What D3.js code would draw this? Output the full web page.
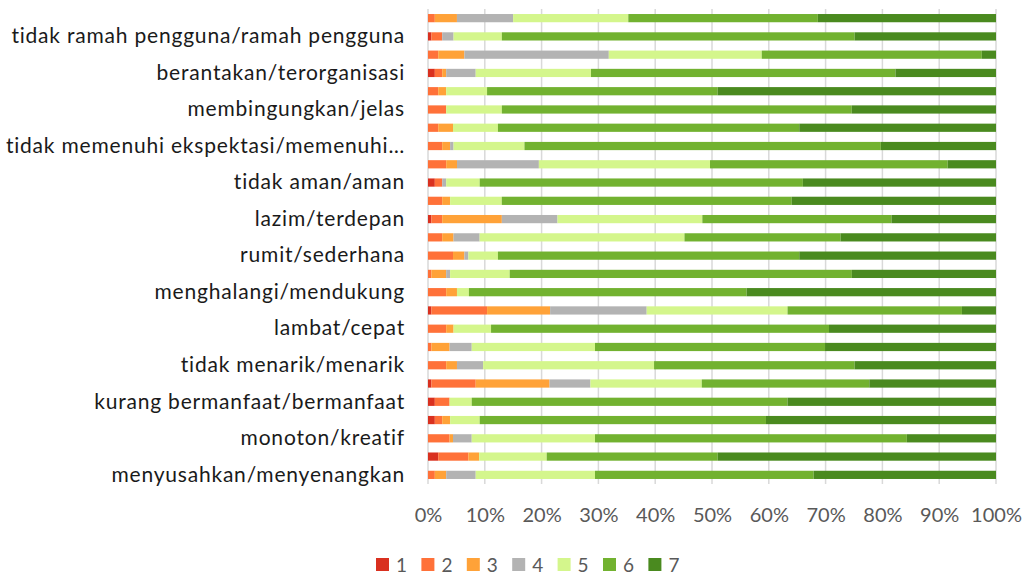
<!DOCTYPE html>
<html>
<head>
<meta charset="utf-8">
<script src="https://cdn.jsdelivr.net/npm/d3@7"></script>
<style>
	body { margin: 0; background: #fff; }
	svg text { font-family: Lato, 'Open Sans', sans-serif; }
</style>
</head>
<body>
<script>
// data (category 1 is drawn at the bottom, like Excel)
var categories = [
	'menyusahkan/menyenangkan',
	'tak dapat dipahami/dapat dipahami',
	'monoton/kreatif',
	'sulit dipelajari/mudah dipelajari',
	'kurang bermanfaat/bermanfaat',
	'membosankan/mengasyikkan',
	'tidak menarik/menarik',
	'tak dapat diprediksi/dapat diprediksi',
	'lambat/cepat',
	'konvensional/berdaya cipta',
	'menghalangi/mendukung',
	'buruk/baik',
	'rumit/sederhana',
	'tidak disukai/menggembirakan',
	'lazim/terdepan',
	'tidak nyaman/nyaman',
	'tidak aman/aman',
	'tidak memotivasi/memotivasi',
	'tidak memenuhi ekspektasi/memenuhi ekspektasi',
	'tidak efisien/efisien',
	'membingungkan/jelas',
	'tidak praktis/praktis',
	'berantakan/terorganisasi',
	'tidak atraktif/atraktif',
	'tidak ramah pengguna/ramah pengguna',
	'konservatif/inovatif'
];

var keys = ['1', '2', '3', '4', '5', '6', '7'];

var s1 = [0, 1.8, 0, 1.2, 1.2, 0.6, 0, 0, 0, 0.6, 0, 0, 0, 0, 0.6, 0, 1.2, 0, 0, 0, 0, 0, 1.2, 0, 0.6, 0];
var s2 = [1.2, 5.3, 3.8, 1.3, 2.6, 7.8, 3.2, 0.6, 3.2, 9.8, 3.2, 0.6, 4.4, 2.5, 1.9, 2.5, 1.3, 3.2, 2.5, 1.8, 3.2, 1.8, 1.3, 1.8, 1.9, 1.2];
var s3 = [2.0, 1.9, 0.6, 1.4, 0, 13.0, 1.9, 3.2, 1.3, 11.1, 1.9, 2.6, 2.0, 2.0, 10.5, 1.4, 0, 1.9, 1.4, 2.6, 0, 1.4, 0.7, 4.6, 0, 3.9];
var s4 = [5.2, 0, 3.3, 0, 0, 7.2, 4.6, 3.9, 0, 17.0, 0, 0.7, 0.7, 4.6, 9.8, 0, 0.7, 14.4, 0.6, 0, 0, 0, 5.2, 25.4, 2.0, 9.9];
var s5 = [21.0, 11.9, 21.7, 5.2, 3.9, 19.6, 30.1, 21.7, 6.6, 24.8, 2.1, 10.5, 5.2, 36.1, 25.5, 9.1, 5.9, 30.1, 12.5, 7.9, 9.8, 7.2, 20.3, 26.9, 8.5, 20.3];
var s6 = [38.5, 30.1, 54.9, 50.4, 55.6, 29.5, 35.3, 40.5, 59.5, 30.7, 48.9, 60.3, 53.0, 27.5, 33.3, 51.1, 56.9, 41.8, 62.8, 53.0, 61.6, 40.6, 53.6, 38.7, 62.1, 33.4];
var s7 = [32.1, 49.0, 15.7, 40.5, 36.7, 22.3, 24.9, 30.1, 29.4, 6.0, 43.9, 25.4, 34.6, 27.4, 18.4, 36.0, 34.0, 8.5, 20.3, 34.6, 25.4, 49.0, 17.7, 2.5, 24.9, 31.4];
var series_values = [s1, s2, s3, s4, s5, s6, s7];

var x_ticks = [0, 0.1, 0.2, 0.3, 0.4, 0.5, 0.6, 0.7, 0.8, 0.9, 1];

var colors = ['#d9301f', '#ff7139', '#ffa238', '#b3b3b3', '#d4f68c', '#72b230', '#4a8a1f'];

var dataset = categories.map(function (c, i) {
	var row = { category: c };
	keys.forEach(function (k, j) { row[k] = series_values[j][i]; });
	return row;
});

// chart
var margin = { top: 9, right: 32, bottom: 92, left: 428 };
var width = 1028 - margin.left - margin.right;
var height = 576 - margin.top - margin.bottom;

var root = d3.select('body')
	.append('svg')
	.attr('width', 1028)
	.attr('height', 576);

var svg = root.append('g')
	.attr('transform', 'translate(' + margin.left + ',' + margin.top + ')');

var x = d3.scaleLinear().domain([0, 1]).range([0, width]);
var y = d3.scaleBand()
	.domain(categories.slice().reverse())
	.range([0, height])
	.paddingInner(0.55)
	.paddingOuter(0.275);

var color = d3.scaleOrdinal().domain(keys).range(colors);

// gridlines
svg.append('g')
	.attr('class', 'grid')
	.selectAll('line')
	.data(x_ticks).enter()
	.append('line')
	.attr('x1', function (d) { return x(d); })
	.attr('x2', function (d) { return x(d); })
	.attr('y1', 0)
	.attr('y2', height)
	.attr('stroke', '#d9d9d9')
	.attr('stroke-width', 1.5);

// bars
var stacked = d3.stack().keys(keys).offset(d3.stackOffsetExpand)(dataset);

svg.append('g')
	.selectAll('g')
	.data(stacked).enter()
	.append('g')
	.attr('fill', function (d) { return color(d.key); })
	.selectAll('rect')
	.data(function (d) { return d; }).enter()
	.append('rect')
	.attr('x', function (d) { return x(d[0]); })
	.attr('width', function (d) { return x(d[1]) - x(d[0]); })
	.attr('y', function (d) { return y(d.data.category); })
	.attr('height', y.bandwidth());

// axes
function shorten (s) {
	return s.length > 36 ? s.slice(0, 34) + '…' : s;
}

var y_axis = d3.axisLeft(y)
	.tickValues(categories.filter(function (d, i) { return i % 2 === 0; }))
	.tickSize(0)
	.tickPadding(23)
	.tickFormat(shorten);

var x_axis = d3.axisBottom(x)
	.tickValues(x_ticks)
	.tickSize(0)
	.tickPadding(24)
	.tickFormat(d3.format('.0%'));

svg.append('g')
	.attr('class', 'y axis')
	.call(y_axis)
	.call(function (g) { g.select('.domain').remove(); })
	.selectAll('text')
	.attr('font-size', 21)
	.attr('letter-spacing', '0.8px')
	.attr('fill', '#1a1a1a');

svg.append('g')
	.attr('class', 'x axis')
	.attr('transform', 'translate(0,' + height + ')')
	.call(x_axis)
	.call(function (g) { g.select('.domain').remove(); })
	.selectAll('text')
	.attr('font-size', 20)
	.attr('fill', '#595959');

// legend
var legend = root.append('g')
	.attr('transform', 'translate(376,558)');

var item = legend.selectAll('g')
	.data(keys).enter()
	.append('g')
	.attr('transform', function (d, i) { return 'translate(' + (i * 45.4) + ',0)'; });

item.append('rect')
	.attr('width', 13)
	.attr('height', 13)
	.attr('fill', function (d) { return color(d); });

item.append('text')
	.attr('x', 20)
	.attr('y', 14)
	.attr('font-size', 19)
	.attr('fill', '#595959')
	.text(function (d) { return d; });
</script>
</body>
</html>
